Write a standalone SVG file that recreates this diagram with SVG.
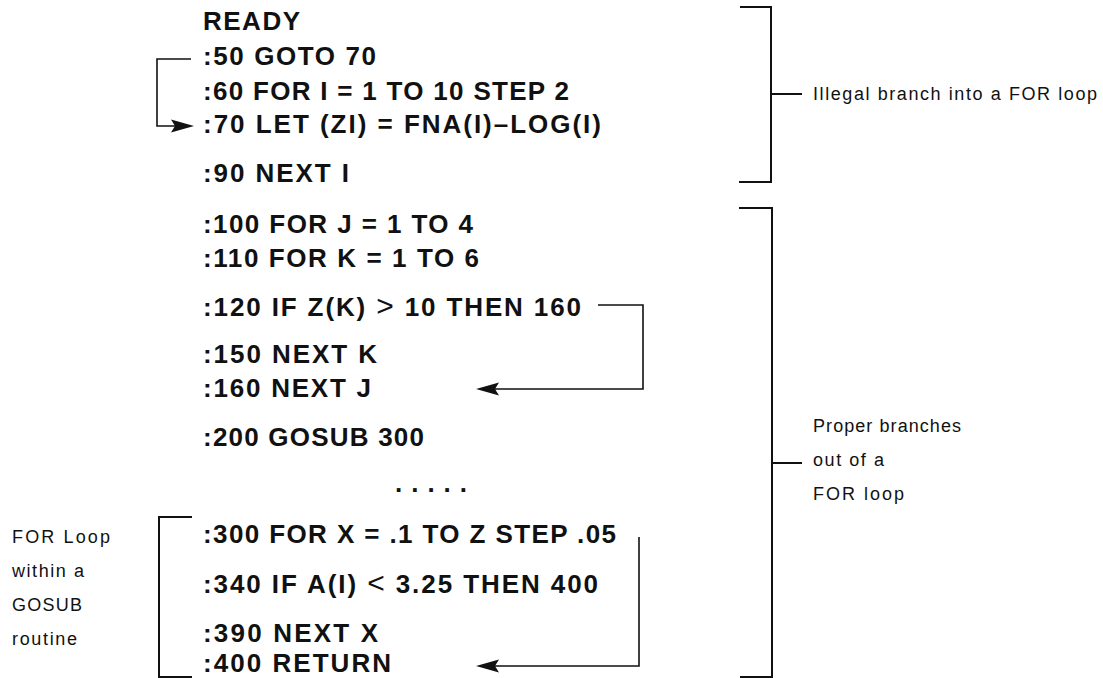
<svg xmlns="http://www.w3.org/2000/svg" width="1103" height="678" viewBox="0 0 1103 678">
<style>
.code{font-family:"Liberation Sans",Arial,sans-serif;font-size:26px;font-weight:bold;fill:#111}
.lbl{font-family:"Liberation Sans",Arial,sans-serif;font-size:18px;fill:#111}
.thin{font-weight:normal;font-size:30px}
.ln{fill:none;stroke:#111;stroke-width:1.6}
.br{fill:none;stroke:#111;stroke-width:2}
.ah{fill:#111;stroke:none}
</style>
<rect width="1103" height="678" fill="#fff"/>
<g id="ready"><text class="code" x="203" y="30" textLength="97" lengthAdjust="spacing">READY</text></g>
<g id="l50"><text class="code" x="203" y="65" textLength="173">:50 GOTO 70</text></g>
<g id="l60"><text class="code" x="203" y="100" textLength="366">:60 FOR I = 1 TO 10 STEP 2</text></g>
<g id="l70"><text class="code" x="203" y="133" textLength="398">:70 LET (ZI) = FNA(I)–LOG(I)</text></g>
<g id="l90"><text class="code" x="203" y="182" textLength="146">:90 NEXT I</text></g>
<g id="l100"><text class="code" x="203" y="233" textLength="270">:100 FOR J = 1 TO 4</text></g>
<g id="l110"><text class="code" x="203" y="267" textLength="276">:110 FOR K = 1 TO 6</text></g>
<g id="l120"><text class="code" x="203" y="316" textLength="378">:120 IF Z(K) <tspan class="thin">&gt;</tspan> 10 THEN 160</text></g>
<g id="l150"><text class="code" x="203" y="363" textLength="174">:150 NEXT K</text></g>
<g id="l160"><text class="code" x="203" y="397" textLength="168">:160 NEXT J</text></g>
<g id="l200"><text class="code" x="203" y="446" textLength="221">:200 GOSUB 300</text></g>
<g id="dots"><text class="code" x="395" y="492" textLength="72">. . . . .</text></g>
<g id="l300"><text class="code" x="203" y="543" textLength="413">:300 FOR X = .1 TO Z STEP .05</text></g>
<g id="l340"><text class="code" x="203" y="593" textLength="395">:340 IF A(I) <tspan class="thin">&lt;</tspan> 3.25 THEN 400</text></g>
<g id="l390"><text class="code" x="203" y="642" textLength="175">:390 NEXT X</text></g>
<g id="l400"><text class="code" x="203" y="672" textLength="188">:400 RETURN</text></g>

<g id="note-illegal"><text class="lbl" x="813" y="100" textLength="284">Illegal branch into a FOR loop</text></g>
<g id="note-proper">
<text class="lbl" x="813" y="432" textLength="148">Proper branches</text>
<text class="lbl" x="813" y="466" textLength="71">out of a</text>
<text class="lbl" x="813" y="500" textLength="91">FOR loop</text>
</g>
<g id="note-gosub">
<text class="lbl" x="12" y="543" textLength="98">FOR Loop</text>
<text class="lbl" x="12" y="577" textLength="72">within a</text>
<text class="lbl" x="12" y="611" textLength="70">GOSUB</text>
<text class="lbl" x="12" y="645" textLength="65">routine</text>
</g>

<g id="connectors">
<path class="ln" d="M191,59 H157 V126 H176"/>
<path class="ah" d="M194,126 L171,119.5 L175,126 L171,132.5 Z"/>
<path class="ln" d="M598,305 H643 V389 H494"/>
<path class="ah" d="M476,389 L499,382.5 L495,389 L499,395.5 Z"/>
<path class="ln" d="M639,537 V666 H494"/>
<path class="ah" d="M476,666 L499,659.5 L495,666 L499,672.5 Z"/>
<path class="br" d="M740,7 H771 V182 H739"/>
<path class="br" d="M771,94 H802"/>
<path class="br" d="M739,208 H772 V677 H740"/>
<path class="br" d="M772,463 H802"/>
<path class="br" d="M192,517 H159 V677 H192"/>
</g>
</svg>
